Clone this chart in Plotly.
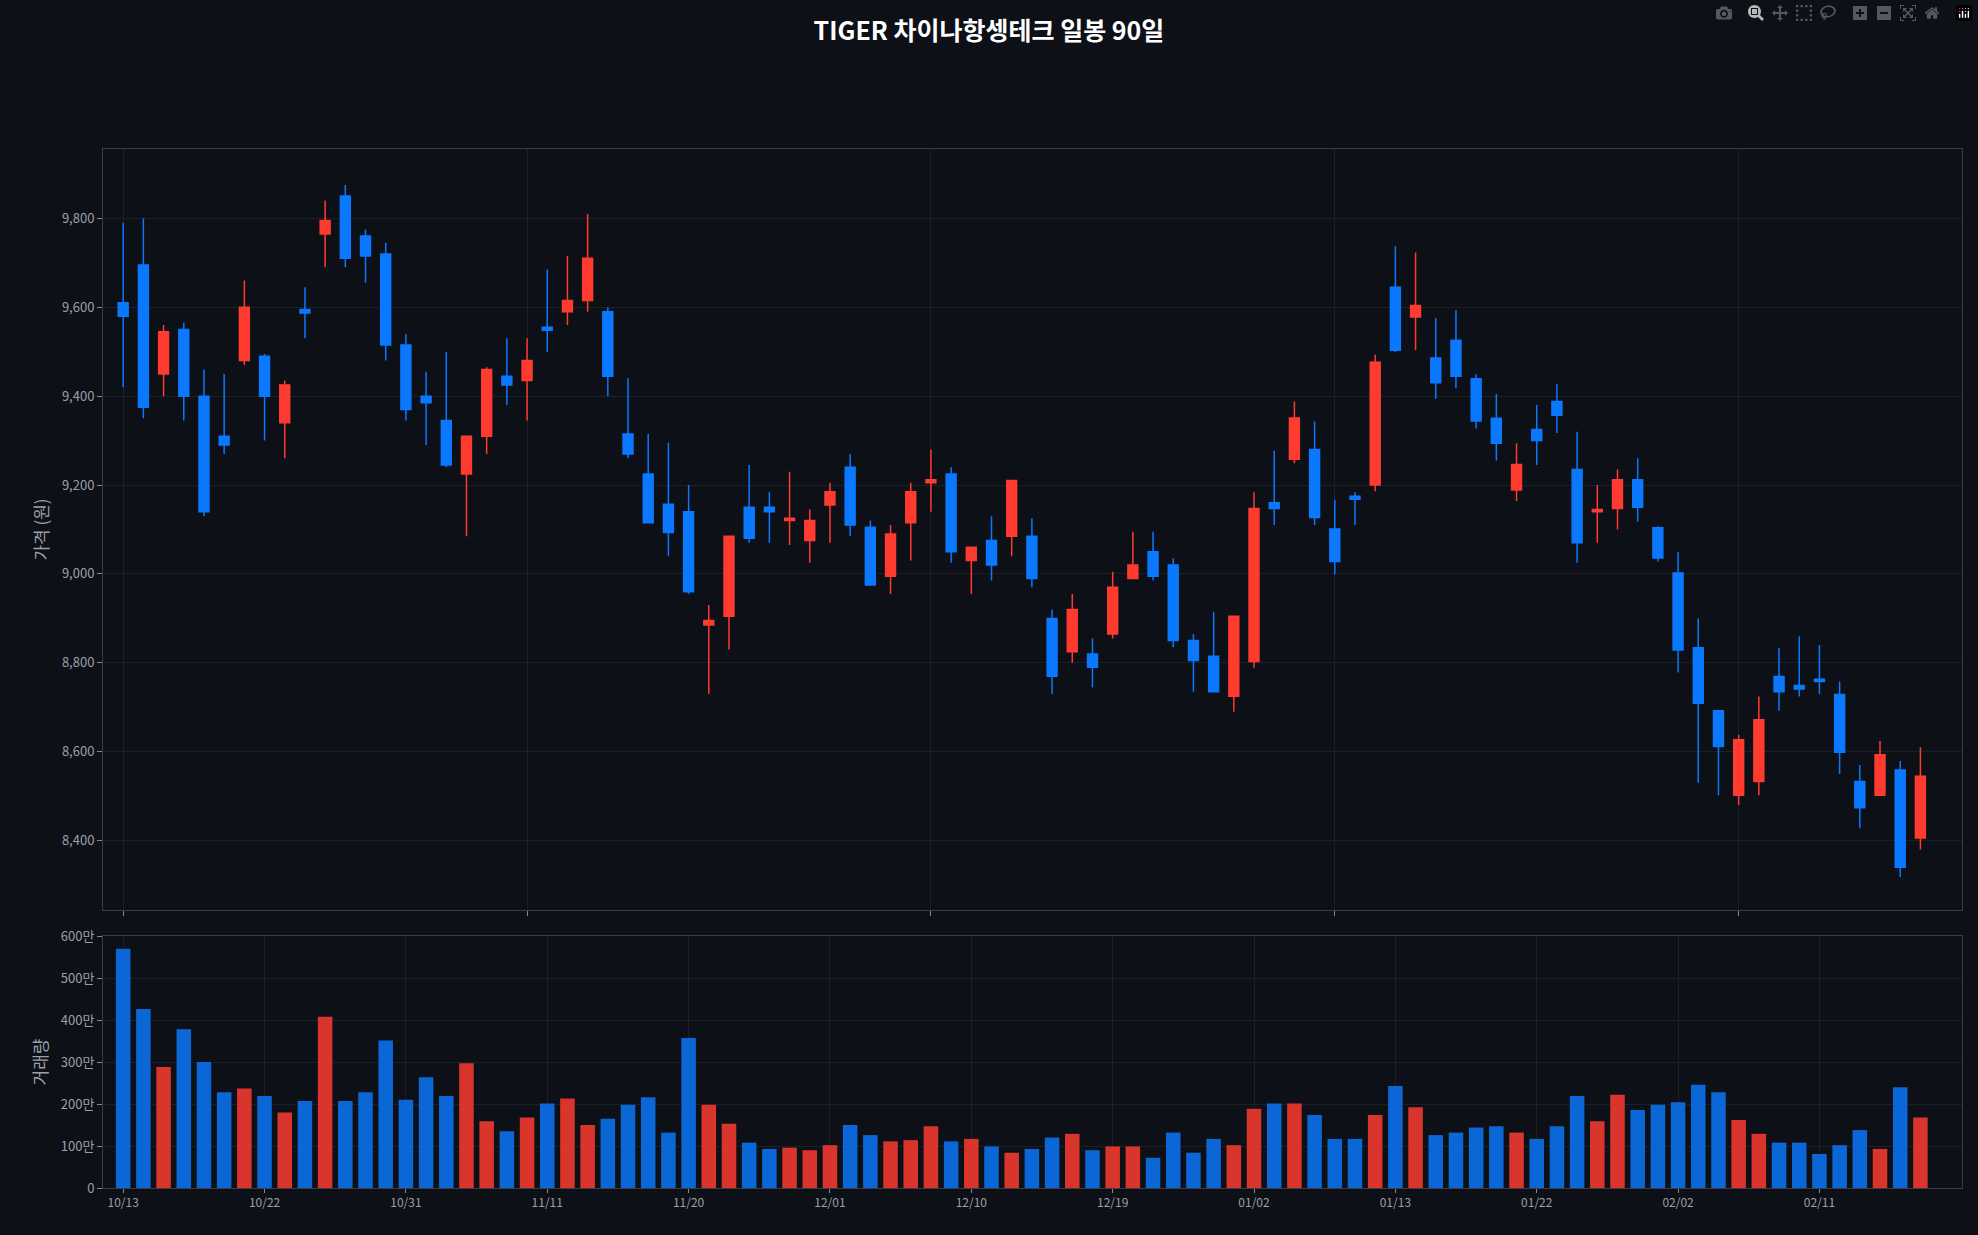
import plotly.graph_objects as go
from plotly.subplots import make_subplots

dates = ["10/13","10/14","10/15","10/16","10/17","10/20","10/21","10/22","10/23","10/24",
         "10/27","10/28","10/29","10/30","10/31","11/03","11/04","11/05","11/06","11/07",
         "11/10","11/11","11/12","11/13","11/14","11/17","11/18","11/19","11/20","11/21",
         "11/24","11/25","11/26","11/27","11/28","12/01","12/02","12/03","12/04","12/05",
         "12/08","12/09","12/10","12/11","12/12","12/15","12/16","12/17","12/18","12/19",
         "12/22","12/23","12/24","12/26","12/29","12/30","01/02","01/05","01/06","01/07",
         "01/08","01/09","01/12","01/13","01/14","01/15","01/16","01/19","01/20","01/21",
         "01/22","01/23","01/26","01/27","01/28","01/29","01/30","02/02","02/03","02/04",
         "02/05","02/06","02/09","02/10","02/11","02/12","02/13","02/19","02/20","02/23"]
opens = [9610,9695,9450,9550,9400,9310,9480,9490,9340,9595,9765,9850,9760,9720,9515,9400,9345,9225,9310,9445,
         9435,9555,9590,9615,9590,9315,9225,9157,9140,8885,8905,9150,9150,9120,9075,9155,9240,9105,8995,9115,
         9205,9225,9030,9075,9085,9085,8900,8825,8820,8865,8990,9050,9020,8850,8815,8725,8803,9160,9258,9280,
         9101,9175,9200,9645,9578,9486,9526,9439,9350,9189,9325,9388,9235,9140,9147,9212,9104,9002,8834,8692,
         8502,8533,8769,8749,8763,8729,8533,8502,8559,8406]
highs = [9790,9800,9560,9565,9460,9450,9660,9495,9435,9645,9840,9875,9775,9745,9540,9455,9500,9310,9465,9530,
         9530,9685,9715,9810,9600,9440,9315,9295,9200,8930,9085,9245,9185,9230,9145,9205,9270,9120,9110,9205,
         9280,9240,9060,9130,9210,9125,8920,8955,8855,9005,9095,9095,9035,8865,8915,8905,9184,9277,9388,9343,
         9167,9184,9493,9737,9723,9576,9593,9449,9405,9294,9380,9428,9320,9200,9235,9260,9107,9050,8900,8692,
         8638,8724,8834,8860,8840,8758,8570,8624,8579,8610]
lows = [9420,9350,9400,9345,9130,9270,9470,9300,9260,9530,9690,9690,9655,9480,9345,9290,9240,9085,9270,9380,
        9345,9500,9560,9590,9400,9260,9115,9040,8955,8730,8830,9070,9070,9065,9025,9070,9085,8975,8955,9030,
        9140,9025,8955,8985,9040,8970,8730,8800,8745,8855,8990,8985,8835,8735,8735,8690,8789,9110,9249,9110,
        8999,9110,9186,9499,9503,9394,9418,9327,9255,9164,9245,9317,9025,9070,9100,9118,9028,8778,8530,8502,
        8480,8502,8692,8724,8730,8550,8428,8502,8318,8380]
closes = [9580,9375,9545,9400,9140,9290,9600,9400,9425,9587,9795,9710,9715,9515,9370,9385,9245,9310,9460,9425,
          9480,9548,9615,9710,9445,9270,9115,9093,8960,8895,9085,9080,9140,9125,9120,9185,9110,8975,9090,9185,
          9212,9050,9060,9020,9210,8990,8770,8920,8790,8970,9020,8995,8850,8805,8735,8905,9147,9147,9351,9127,
          9028,9168,9476,9503,9604,9430,9445,9344,9294,9246,9300,9357,9070,9145,9212,9150,9036,8829,8709,8612,
          8627,8672,8735,8741,8758,8599,8474,8593,8340,8545]
volumes = [570,426,288,378,300,228,237,219,180,207,408,207,228,351,210,264,219,297,159,135,
           168,201,213,150,165,198,216,132,357,198,153,108,93,96,90,102,150,126,111,114,
           147,111,117,99,84,93,120,129,90,99,99,72,132,84,117,102,189,201,201,174,
           117,117,174,243,192,126,132,144,147,132,117,147,219,159,222,186,198,204,246,228,
           162,129,108,108,81,102,138,93,240,168]
volumes = [v * 10000 for v in volumes]
vol_ticks = [0, 1000000, 2000000, 3000000, 4000000, 5000000, 6000000]
vol_tick_text = ["0", "100만", "200만", "300만", "400만", "500만", "600만"]
price_ticks = [8400, 8600, 8800, 9000, 9200, 9400, 9600, 9800]

UP, DOWN = "#ff3b30", "#0a78ff"
UPV, DOWNV = "#d9352c", "#0b66d6"
idx = list(range(len(dates)))
vcolors = [UPV if c >= o else DOWNV for o, c in zip(opens, closes)]

fig = make_subplots(rows=2, cols=1, shared_xaxes=False, vertical_spacing=0.025,
                    row_heights=[0.75, 0.25])
fig.add_trace(go.Candlestick(x=idx, open=opens, high=highs, low=lows, close=closes,
                             increasing=dict(line=dict(color=UP, width=1.5), fillcolor=UP),
                             decreasing=dict(line=dict(color=DOWN, width=1.5), fillcolor=DOWN),
                             whiskerwidth=0, showlegend=False, hoverinfo="skip"), row=1, col=1)
fig.add_trace(go.Bar(x=idx, y=volumes, marker=dict(color=vcolors, line=dict(width=0)),
                     width=0.72, showlegend=False), row=2, col=1)

BG = "#0d1017"
GRID = "#1b1f26"
fig.update_layout(
    width=1978, height=1235, paper_bgcolor=BG, plot_bgcolor=BG,
    margin=dict(l=103, r=16, t=149, b=47),
    font=dict(family="Noto Sans CJK KR, Noto Sans, sans-serif", color="#9aa0a8", size=13),
    title=dict(text="<b>TIGER 차이나항셍테크 일봉 90일</b>", x=0.5, xanchor="center", y=0.982,
               yanchor="top", font=dict(size=25, color="#ffffff")),
)
xr = [-1, 91.06]
fig.update_xaxes(range=xr, showgrid=True, gridcolor=GRID, linecolor="#3a3d42", mirror=True,
                 showline=True, zeroline=False, ticks="outside", tickcolor="#888", ticklen=5)
fig.update_xaxes(row=1, col=1, rangeslider_visible=False, tickvals=[0, 20, 40, 60, 80],
                 showticklabels=False)
fig.update_xaxes(row=2, col=1, tickvals=idx[::7], ticktext=dates[::7],
                 tickfont=dict(size=12, color="#9aa0a8"), ticklen=4)
fig.update_yaxes(showgrid=True, gridcolor=GRID, linecolor="#3a3d42", mirror=True, showline=True,
                 zeroline=False, ticks="outside", tickcolor="#888", ticklen=5)
fig.update_yaxes(row=1, col=1, range=[8244, 9956], tickvals=price_ticks, tickformat=",",
                 title=dict(text="가격 (원)", font=dict(size=17, color="#9aa0a8"), standoff=8))
fig.update_yaxes(row=2, col=1, range=[0, 6000000], tickvals=vol_ticks, ticktext=vol_tick_text,
                 title=dict(text="거래량", font=dict(size=17, color="#9aa0a8"), standoff=8))
fig.update_layout(yaxis=dict(domain=[0.2676, 1]), yaxis2=dict(domain=[0, 0.2425]))
fig.write_html("out.html",
               post_script="document.body.style.margin='0';document.body.style.background='#0d1017';")
